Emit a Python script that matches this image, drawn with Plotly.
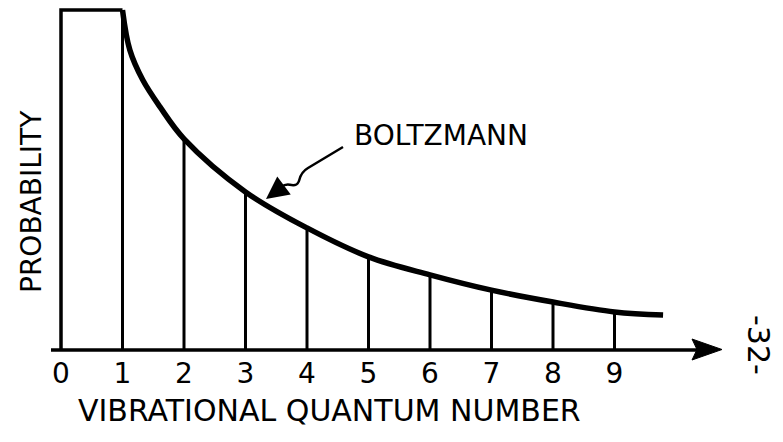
import plotly.graph_objects as go

# ---- data ----
quantum_numbers = [1, 2, 3, 4, 5, 6, 7, 8, 9]
probabilities = [1.0, 0.621, 0.465, 0.359, 0.274, 0.221, 0.176, 0.141, 0.112]
curve_x = [1.0, 1.12, 1.33, 1.61, 2, 3, 4, 5, 6, 7, 8, 9, 9.79]
curve_y = [1.0, 0.882, 0.794, 0.715, 0.621, 0.465, 0.359,
           0.274, 0.221, 0.176, 0.141, 0.112, 0.103]
box_x = [0, 0, 1]
box_y = [0, 1.0, 1.0]
tick_vals = [0, 1, 2, 3, 4, 5, 6, 7, 8, 9]
tick_text = ["0", "1", "2", "3", "4", "5", "6", "7", "8", "9"]

PAGE_OFF = 8                 # default body margin of the html page
W, H = 783 - PAGE_OFF, 442 - PAGE_OFF
X0PX, DXPX = 61.0, 61.5      # page pixel of x=0, pixels per unit
Y0PX, DYPX = 350.0, 340.0    # page pixel of y=0, pixels per unit


def xd(p):
    return (p - X0PX) / DXPX


def yd(p):
    return (Y0PX - p) / DYPX


FONT = "DejaVu Sans"
INK = "black"

fig = go.Figure()

# left box (level 0 region)
fig.add_trace(go.Scatter(x=box_x, y=box_y, mode="lines",
                         line=dict(color=INK, width=3.5), hoverinfo="skip"))

# vertical lines at each quantum number
vx, vy = [], []
for q, p in zip(quantum_numbers, probabilities):
    vx += [q, q, None]
    vy += [0, p, None]
fig.add_trace(go.Scatter(x=vx, y=vy, mode="lines",
                         line=dict(color=INK, width=3), hoverinfo="skip"))

# Boltzmann curve
fig.add_trace(go.Scatter(x=curve_x, y=curve_y, mode="lines",
                         line=dict(color=INK, width=5.5, shape="spline", smoothing=1.0),
                         hoverinfo="skip"))

# x axis line with arrow head
fig.add_shape(type="line", x0=xd(51), y0=0, x1=xd(700), y1=0,
              line=dict(color=INK, width=3.5))
fig.add_shape(type="path",
              path=f"M{xd(722)},{yd(349.5)} L{xd(692)},{yd(339)} L{xd(697)},{yd(349.5)} L{xd(692)},{yd(360)} Z",
              fillcolor=INK, line=dict(color=INK, width=1))

# squiggle leading to the BOLTZMANN label
fig.add_shape(type="path",
              path=(f"M{xd(343)},{yd(147)} L{xd(308)},{yd(168)} "
                    f"C{xd(296)},{yd(175)} {xd(302)},{yd(184)} {xd(295)},{yd(185)} "
                    f"C{xd(289)},{yd(186)} {xd(288)},{yd(182)} {xd(281)},{yd(187)}"),
              line=dict(color=INK, width=2.5))
fig.add_annotation(x=xd(266), y=yd(199), ax=xd(282), ay=yd(187),
                   axref="x", ayref="y", xref="x", yref="y",
                   text="", showarrow=True, arrowhead=2, arrowsize=1.8,
                   arrowwidth=2.5, arrowcolor=INK, standoff=0)

fig.add_annotation(x=xd(352), y=yd(135), text="BOLTZMANN", showarrow=False,
                   xanchor="left", yanchor="middle",
                   font=dict(family=FONT, size=28, color=INK))

fig.add_annotation(x=xd(329), y=yd(410), text="VIBRATIONAL QUANTUM NUMBER",
                   showarrow=False, xanchor="center", yanchor="middle",
                   font=dict(family=FONT, size=30, color=INK))

fig.add_annotation(x=xd(31), y=yd(202), text="PROBABILITY", textangle=-90,
                   showarrow=False, xanchor="center", yanchor="middle",
                   font=dict(family=FONT, size=28, color=INK))

fig.add_annotation(x=xd(759), y=yd(345), text="-32-", textangle=90,
                   showarrow=False, xanchor="center", yanchor="middle",
                   font=dict(family=FONT, size=30, color=INK))

fig.update_layout(
    width=W, height=H,
    margin=dict(l=0, r=0, t=0, b=0),
    paper_bgcolor="white", plot_bgcolor="white",
    showlegend=False,
    xaxis=dict(range=[xd(PAGE_OFF), xd(783)], showgrid=False, zeroline=False,
               showline=False, tickvals=tick_vals, ticktext=tick_text,
               ticks="", anchor="free", position=(442 - Y0PX) / H,
               tickfont=dict(family=FONT, size=28, color=INK),
               ticklabelstandoff=4, fixedrange=True),
    yaxis=dict(range=[yd(442), yd(PAGE_OFF)], visible=False, fixedrange=True),
)

fig.write_html("out.html")
